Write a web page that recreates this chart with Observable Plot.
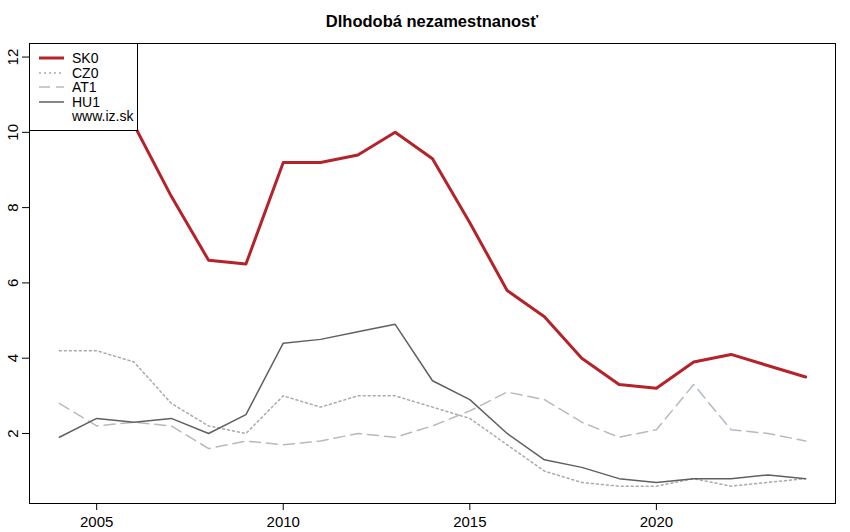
<!DOCTYPE html>
<html>
<head>
<meta charset="utf-8">
<script src="https://cdn.jsdelivr.net/npm/d3@7"></script>
<script src="https://cdn.jsdelivr.net/npm/@observablehq/plot@0.6"></script>
<style>
  html, body { margin: 0; padding: 0; background: #fff; }
  #wrap { position: relative; width: 850px; height: 532px; font-family: "Liberation Sans", Arial, sans-serif; }
  #chart svg text { font-size: 15px !important; font-family: "Liberation Sans", Arial, sans-serif; }
  #title { position: absolute; left: 29px; width: 806px; top: 12px; text-align: center; font-weight: bold; font-size: 16.5px; color: #000; }
  #legend { position: absolute; left: 29px; top: 43px; width: 109px; height: 88px; background: #fff; border: 1px solid #000; box-sizing: border-box; }
  #legend .row { position: absolute; left: 0; height: 14px; font-size: 14px; line-height: 14px; }
  #legend .row span { position: absolute; left: 42px; top: 0; white-space: nowrap; }
  #legend svg { position: absolute; left: 7px; top: 0; }
</style>
</head>
<body>
<div id="wrap">
  <div id="chart"></div>
  <div id="title">Dlhodobá nezamestnanosť</div>
  <div id="legend"></div>
</div>
<script>
const years = [2004,2005,2006,2007,2008,2009,2010,2011,2012,2013,2014,2015,2016,2017,2018,2019,2020,2021,2022,2023,2024];
const SK0 = [11.8,11.7,10.2,8.3,6.6,6.5,9.2,9.2,9.4,10.0,9.3,7.6,5.8,5.1,4.0,3.3,3.2,3.9,4.1,3.8,3.5];
const CZ0 = [4.2,4.2,3.9,2.8,2.2,2.0,3.0,2.7,3.0,3.0,2.7,2.4,1.7,1.0,0.7,0.6,0.6,0.8,0.6,0.7,0.8];
const AT1 = [2.8,2.2,2.3,2.2,1.6,1.8,1.7,1.8,2.0,1.9,2.2,2.6,3.1,2.9,2.3,1.9,2.1,3.3,2.1,2.0,1.8];
const HU1 = [1.9,2.4,2.3,2.4,2.0,2.5,4.4,4.5,4.7,4.9,3.4,2.9,2.0,1.3,1.1,0.8,0.7,0.8,0.8,0.9,0.8];
const xTicks = [2005,2010,2015,2020];
const yTicks = [2,4,6,8,10,12];

const seriesNames = ["SK0","CZ0","AT1","HU1"];
const seriesVals = [SK0, CZ0, AT1, HU1];
const styles = {
  SK0: {stroke: "#b5232a", strokeWidth: 3, dash: null},
  CZ0: {stroke: "#aaaaaa", strokeWidth: 1.5, dash: "2,3"},
  AT1: {stroke: "#b4bac2", strokeWidth: 1.5, dash: "11,6"},
  HU1: {stroke: "#606060", strokeWidth: 1.5, dash: null}
};
const rows = seriesNames.flatMap((s, i) => years.map((y, j) => ({series: s, year: y, value: seriesVals[i][j]})));

const lineMarks = ["CZ0","AT1","HU1","SK0"].map(s => Plot.line(rows.filter(d => d.series === s), {
  x: "year", y: "value",
  stroke: styles[s].stroke, strokeWidth: styles[s].strokeWidth,
  strokeDasharray: styles[s].dash, strokeLinejoin: "round"
}));

const chart = Plot.plot({
  width: 850, height: 532,
  marginLeft: 29, marginRight: 15, marginTop: 43, marginBottom: 29,
  style: {fontFamily: "Liberation Sans, Arial, sans-serif", fontSize: "15px", color: "#000", background: "#fff"},
  x: {domain: [2003.2, 2024.8]},
  y: {domain: [0.14, 12.36]},
  marks: [
    ...lineMarks,
    Plot.frame({stroke: "#000", strokeWidth: 1}),
    Plot.axisX({ticks: xTicks, tickFormat: d => String(d), tickSize: 7, tickPadding: 6, label: null}),
    Plot.axisY({ticks: yTicks, tickFormat: d => String(d), tickSize: 7, tickPadding: 5, tickRotate: -90, label: null})
  ]
});
document.getElementById("chart").appendChild(chart);

// legend
const legend = document.getElementById("legend");
const legendItems = [...seriesNames, "www.iz.sk"];
legendItems.forEach((name, i) => {
  const row = document.createElement("div");
  row.className = "row";
  row.style.top = (7 + i * 14.6) + "px";
  row.style.width = "100%";
  if (styles[name]) {
    const st = styles[name];
    row.innerHTML = `<svg width="30" height="14"><line x1="2" x2="27" y1="7" y2="7" stroke="${st.stroke}" stroke-width="${st.strokeWidth}" ${st.dash ? `stroke-dasharray="${st.dash}"` : ""}/></svg>`;
  }
  const sp = document.createElement("span");
  sp.textContent = name;
  row.appendChild(sp);
  legend.appendChild(row);
});
</script>
</body>
</html>
